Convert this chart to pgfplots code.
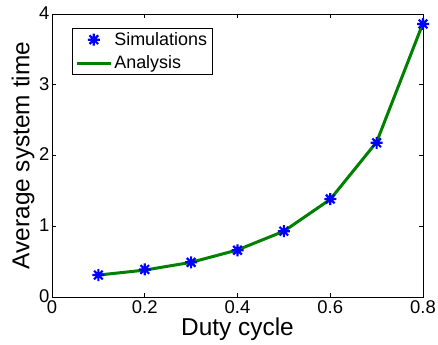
\documentclass[border=0pt]{standalone}
\usepackage{pgfplots}
\pgfplotsset{compat=1.18}
\usepackage{fontspec}
\setmainfont{Liberation Sans}
\definecolor{mgreen}{rgb}{0,0.5,0}
\pgfdeclareplotmark{mstar}{%
  \pgfpathmoveto{\pgfqpoint{-\pgfplotmarksize}{0pt}}\pgfpathlineto{\pgfqpoint{\pgfplotmarksize}{0pt}}%
  \pgfpathmoveto{\pgfqpoint{0pt}{-\pgfplotmarksize}}\pgfpathlineto{\pgfqpoint{0pt}{\pgfplotmarksize}}%
  \pgfpathmoveto{\pgfqpoint{-0.72\pgfplotmarksize}{-0.72\pgfplotmarksize}}\pgfpathlineto{\pgfqpoint{0.72\pgfplotmarksize}{0.72\pgfplotmarksize}}%
  \pgfpathmoveto{\pgfqpoint{-0.72\pgfplotmarksize}{0.72\pgfplotmarksize}}\pgfpathlineto{\pgfqpoint{0.72\pgfplotmarksize}{-0.72\pgfplotmarksize}}%
  \pgfusepathqstroke}
\begin{document}
\begin{tikzpicture}
\begin{axis}[
  name=ax,
  scale only axis,
  width=371bp, height=283bp,
  xmin=0, xmax=0.8, ymin=0, ymax=4,
  xtick={0,0.2,0.4,0.6,0.8},
  ytick={0,1,2,3,4},
  xticklabels={0,0.2,0.4,0.6,0.8},
  tick align=inside,
  tick pos=both,
  major tick length=4bp,
  /pgf/number format/assume math mode=true,
  ticklabel style={font=\fontsize{18.5}{20}\selectfont},
  yticklabel style={xshift=1bp, yshift=1bp},
  xticklabel style={yshift=-0.5bp},
  xlabel={Duty cycle}, ylabel={Average system time},
  label style={font=\fontsize{24.5}{27}\selectfont},
  xlabel style={yshift=3bp},
  ylabel style={yshift=-2bp},
  axis line style={line width=0.8bp},
  every tick/.style={black, line width=0.6bp},
  legend style={at={(0.054,0.95)}, anchor=north west, font=\fontsize{18}{20}\selectfont, draw=black, line width=0.6bp, inner xsep=3bp, inner ysep=2bp, row sep=5bp},
  legend cell align=left,
  legend image code/.code={\draw[mark repeat=2,mark phase=2,#1] plot coordinates {(0bp,0bp) (17bp,0bp) (34bp,0bp)};},
]
\addplot[only marks, mark=mstar, mark size=6bp, color=blue, mark options={line width=2.2bp}]
  coordinates {(0.1,0.31) (0.2,0.39) (0.3,0.49) (0.4,0.66) (0.5,0.93) (0.6,1.385) (0.7,2.18) (0.8,3.86)};
\addlegendentry{Simulations}
\addplot[mgreen, line width=3bp, no marks]
  coordinates {(0.1,0.31) (0.2,0.38) (0.3,0.49) (0.4,0.665) (0.5,0.93) (0.6,1.38) (0.7,2.19) (0.8,3.87)};
\addlegendentry{Analysis}
\end{axis}
\pgfresetboundingbox
\path (ax.south west) ++(-52bp,-48bp) rectangle ++(438bp,345bp);
\end{tikzpicture}
\end{document}
